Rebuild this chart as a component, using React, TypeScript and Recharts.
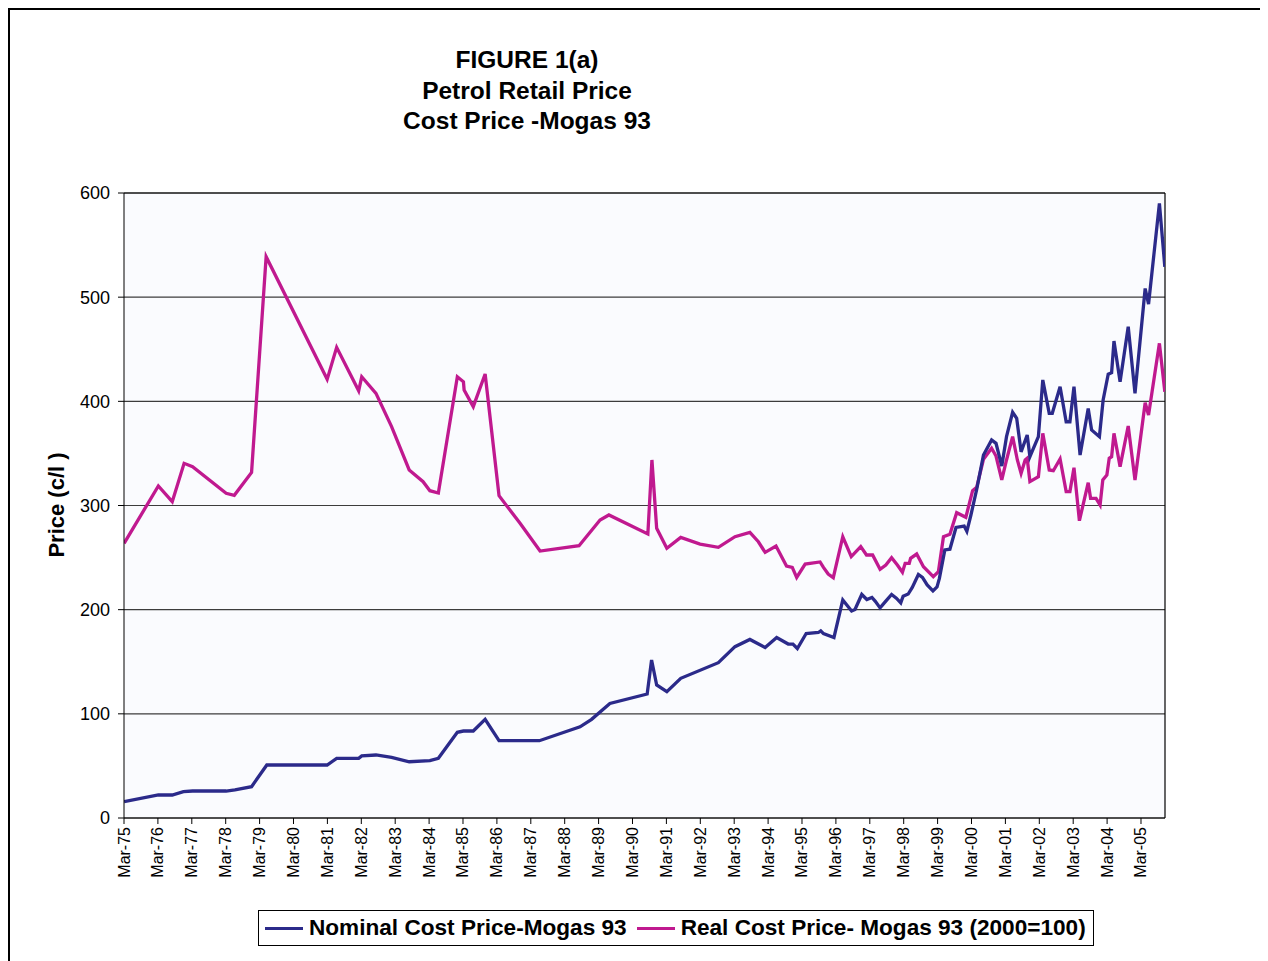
import React from "react";
import { LineChart, Line, XAxis, YAxis, CartesianGrid, ReferenceLine } from "recharts";

// dates are decimal years (Mar-75 = 1975.17)
const nominalDates = [
  1975.17, 1976.18, 1976.59, 1976.92, 1977.19, 1978.18, 1978.44, 1978.93, 1979.38, 1981.16,
  1981.44, 1982.09, 1982.18, 1982.6, 1983.06, 1983.58, 1984.19, 1984.44, 1985.0, 1985.18,
  1985.47, 1985.82, 1986.23, 1987.42, 1988.62, 1988.96, 1989.5, 1990.6, 1990.73, 1990.88,
  1991.18, 1991.59, 1992.7, 1993.19, 1993.63, 1994.08, 1994.42, 1994.76, 1994.9, 1995.03,
  1995.29, 1995.65, 1995.72, 1995.8, 1996.11, 1996.37, 1996.63, 1996.73, 1996.93, 1997.08,
  1997.23, 1997.33, 1997.47, 1997.62, 1997.81, 1997.95, 1998.08, 1998.15, 1998.3, 1998.42,
  1998.6, 1998.72, 1998.86, 1999.03, 1999.15, 1999.22, 1999.38, 1999.53, 1999.71, 1999.95,
  2000.03, 2000.15, 2000.32, 2000.52, 2000.76, 2000.89, 2001.06, 2001.2, 2001.38, 2001.5,
  2001.63, 2001.81, 2001.89, 2002.14, 2002.27, 2002.46, 2002.55, 2002.78, 2002.96, 2003.07,
  2003.19, 2003.37, 2003.61, 2003.71, 2003.94, 2004.05, 2004.2, 2004.3, 2004.37, 2004.55,
  2004.79, 2004.99, 2005.29, 2005.39, 2005.71, 2005.87,
];
const nominalValues = [
  15.7, 22.1, 22.1, 25.3, 25.9, 25.9, 26.9, 30.1, 50.9, 50.9,
  57.3, 57.3, 59.6, 60.5, 58.1, 54.0, 55.0, 57.3, 82.3, 83.5,
  83.5, 94.7, 74.2, 74.2, 87.5, 94.7, 110, 119, 151.7, 127.7,
  121.3, 134.1, 149.1, 164.5, 171.4, 163.7, 173.3, 167, 167, 162.7,
  177.1, 178.1, 179.7, 177, 173.3, 209.3, 198.7, 200.2, 214.6, 209.8,
  211.7, 208, 201.7, 207.5, 214.6, 211, 206.5, 213, 215, 221.3,
  233.8, 231, 223.7, 218, 221.9, 230, 257.3, 258, 278.9, 280.3,
  275.2, 290.9, 315.4, 348.5, 362.9, 359.7, 337.9, 366.1, 389.5, 383.7,
  351.5, 367.7, 346.8, 366.1, 420.5, 388.5, 388.5, 414, 380.4, 380.4,
  414, 348.5, 393.2, 372.5, 366.1, 401.3, 426, 427.5, 457.9, 418.8,
  471.6, 407.7, 508.3, 493.4, 590, 529.2,
];

const realDates = [
  1975.17, 1976.18, 1976.59, 1976.94, 1977.19, 1978.18, 1978.42, 1978.93, 1979.36, 1981.16,
  1981.44, 1982.09, 1982.18, 1982.6, 1983.06, 1983.58, 1983.99, 1984.19, 1984.44, 1985.0,
  1985.18, 1985.2, 1985.47, 1985.82, 1986.23, 1986.85, 1987.44, 1988.59, 1989.21, 1989.47,
  1990.62, 1990.74, 1990.88, 1991.18, 1991.59, 1992.16, 1992.7, 1993.19, 1993.63, 1993.88,
  1994.08, 1994.4, 1994.71, 1994.88, 1995.01, 1995.26, 1995.7, 1995.8, 1995.94, 1996.09,
  1996.37, 1996.62, 1996.9, 1997.07, 1997.25, 1997.47, 1997.64, 1997.81, 1997.98, 1998.13,
  1998.21, 1998.33, 1998.37, 1998.55, 1998.75, 1999.04, 1999.19, 1999.34, 1999.53, 1999.73,
  2000.0, 2000.2, 2000.32, 2000.52, 2000.76, 2000.89, 2001.06, 2001.2, 2001.38, 2001.52,
  2001.63, 2001.75, 2001.81, 2001.89, 2002.14, 2002.27, 2002.46, 2002.58, 2002.78, 2002.96,
  2003.07, 2003.19, 2003.35, 2003.61, 2003.68, 2003.84, 2003.96, 2004.04, 2004.16, 2004.23,
  2004.3, 2004.37, 2004.55, 2004.79, 2004.99, 2005.29, 2005.39, 2005.71, 2005.87,
];
const realValues = [
  263.7, 318.7, 303.7, 340.5, 337.3, 311.7, 309.8, 331.8, 538.9, 421.1,
  451.8, 410.1, 423.6, 407.7, 375.7, 334.1, 322.9, 314.2, 312, 423.6,
  418.8, 410.9, 394.9, 426.2, 309.4, 282.9, 256.3, 261.4, 286.1, 290.9,
  272.6, 343.7, 278.1, 258.9, 269.4, 263, 259.8, 270.1, 274.2, 265.2,
  255, 261.1, 241.9, 240.6, 230.9, 243.8, 245.8, 240.6, 234.2, 230.7,
  270, 250.9, 260.5, 252.5, 252.5, 238.7, 242.9, 249.9, 242.9, 235.9,
  244.5, 244.5, 249.3, 253.4, 241.2, 231.6, 236.4, 270, 272.3, 293.1,
  288.7, 314.2, 317.5, 344.4, 355, 347.5, 324.5, 343.7, 366.1, 343.7,
  330.9, 343.7, 345.3, 322.9, 327.6, 369.3, 334.1, 333.4, 344.6, 313.3,
  313.3, 336.3, 285.4, 321.9, 306.9, 306.9, 300.5, 324.5, 329.3, 345.3,
  346.8, 369.3, 337.3, 376.3, 324.5, 398.7, 386.9, 455.7, 409.2,
];

const tickLabels = [
  "Mar-75", "Mar-76", "Mar-77", "Mar-78", "Mar-79", "Mar-80", "Mar-81", "Mar-82",
  "Mar-83", "Mar-84", "Mar-85", "Mar-86", "Mar-87", "Mar-88", "Mar-89", "Mar-90",
  "Mar-91", "Mar-92", "Mar-93", "Mar-94", "Mar-95", "Mar-96", "Mar-97", "Mar-98",
  "Mar-99", "Mar-00", "Mar-01", "Mar-02", "Mar-03", "Mar-04", "Mar-05",
];
const yTicks = [0, 100, 200, 300, 400, 500, 600];

const NAVY = "#2B2A8A";
const MAGENTA = "#C0198F";
const FONT = "'Liberation Sans', Arial, sans-serif";

const X_START = 1975.167;
const X_END = 2005.875;
const xTicks = tickLabels.map((_, i) => X_START + i);

const nominal = nominalDates.map((t, i) => ({ t, v: nominalValues[i] }));
const real = realDates.map((t, i) => ({ t, v: realValues[i] }));

const XTick = (props: any) => {
  const { x, y, payload } = props;
  const idx = Math.round(payload.value - X_START);
  return (
    <g transform={`translate(${x},${y})`}>
      <text transform="rotate(-90)" x={0} y={0} dy={5.5} textAnchor="end" fontSize={16} fontFamily={FONT} fill="#000">
        {tickLabels[idx]}
      </text>
    </g>
  );
};

const LegendItem = ({ color, text }: { color: string; text: string }) => (
  <div style={{ display: "flex", alignItems: "center", marginRight: 10 }}>
    <div style={{ width: 38, height: 3, background: color, marginRight: 6 }} />
    <span>{text}</span>
  </div>
);

export default function App() {
  return (
    <div style={{ position: "relative", width: 1260, height: 953, fontFamily: FONT }}>
      <div
        style={{
          position: "absolute", left: 0, top: 0, width: 1258, height: 970,
          border: "2px solid #000", boxSizing: "border-box",
        }}
      />
      <div
        style={{
          position: "absolute", left: 219, top: 37, width: 600, textAlign: "center",
          fontWeight: "bold", fontSize: 24.5, lineHeight: "30.5px",
        }}
      >
        <div>FIGURE 1(a)</div>
        <div>Petrol Retail Price</div>
        <div>Cost Price -Mogas 93</div>
      </div>
      <div
        style={{
          position: "absolute", left: 49, top: 497, transform: "translate(-50%,-50%) rotate(-90deg)",
          whiteSpace: "nowrap", fontWeight: "bold", fontSize: 22,
        }}
      >
        Price (c/l )
      </div>
      <div style={{ position: "absolute", left: 0, top: 0 }}>
        <LineChart width={1258} height={900} margin={{ top: 185, right: 101, left: 0, bottom: 20 }}>
          <CartesianGrid vertical={false} stroke="#3c3c3c" strokeWidth={1.2} fill="#FAFBFE" />
          <XAxis
            type="number"
            dataKey="t"
            domain={[X_START, X_END]}
            ticks={xTicks}
            interval={0}
            allowDataOverflow
            height={70}
            tick={<XTick />}
            tickSize={6}
            tickMargin={3}
            stroke="#000"
            tickLine={{ stroke: "#000" }}
          />
          <YAxis
            type="number"
            domain={[0, 600]}
            ticks={yTicks}
            width={116}
            tickSize={6}
            tickMargin={8}
            stroke="#000"
            tick={{ fontSize: 18, fill: "#000", fontFamily: FONT }}
          />
          <ReferenceLine y={600} stroke="#000" strokeWidth={1.2} />
          <ReferenceLine x={X_END} stroke="#000" strokeWidth={1.2} />
          <Line
            data={real}
            dataKey="v"
            name="Real Cost Price- Mogas 93 (2000=100)"
            type="linear"
            stroke={MAGENTA}
            strokeWidth={3.3}
            dot={false}
            isAnimationActive={false}
          />
          <Line
            data={nominal}
            dataKey="v"
            name="Nominal Cost Price-Mogas 93"
            type="linear"
            stroke={NAVY}
            strokeWidth={3.3}
            dot={false}
            isAnimationActive={false}
          />
        </LineChart>
      </div>
      <div
        style={{
          position: "absolute", left: 250, top: 902, width: 836, height: 36,
          border: "1px solid #000", boxSizing: "border-box", display: "flex", alignItems: "center",
          paddingLeft: 6, fontWeight: "bold", fontSize: 22.6, whiteSpace: "nowrap", background: "#fff",
        }}
      >
        <LegendItem color={NAVY} text="Nominal Cost Price-Mogas 93" />
        <LegendItem color={MAGENTA} text="Real Cost Price- Mogas 93 (2000=100)" />
      </div>
    </div>
  );
}
